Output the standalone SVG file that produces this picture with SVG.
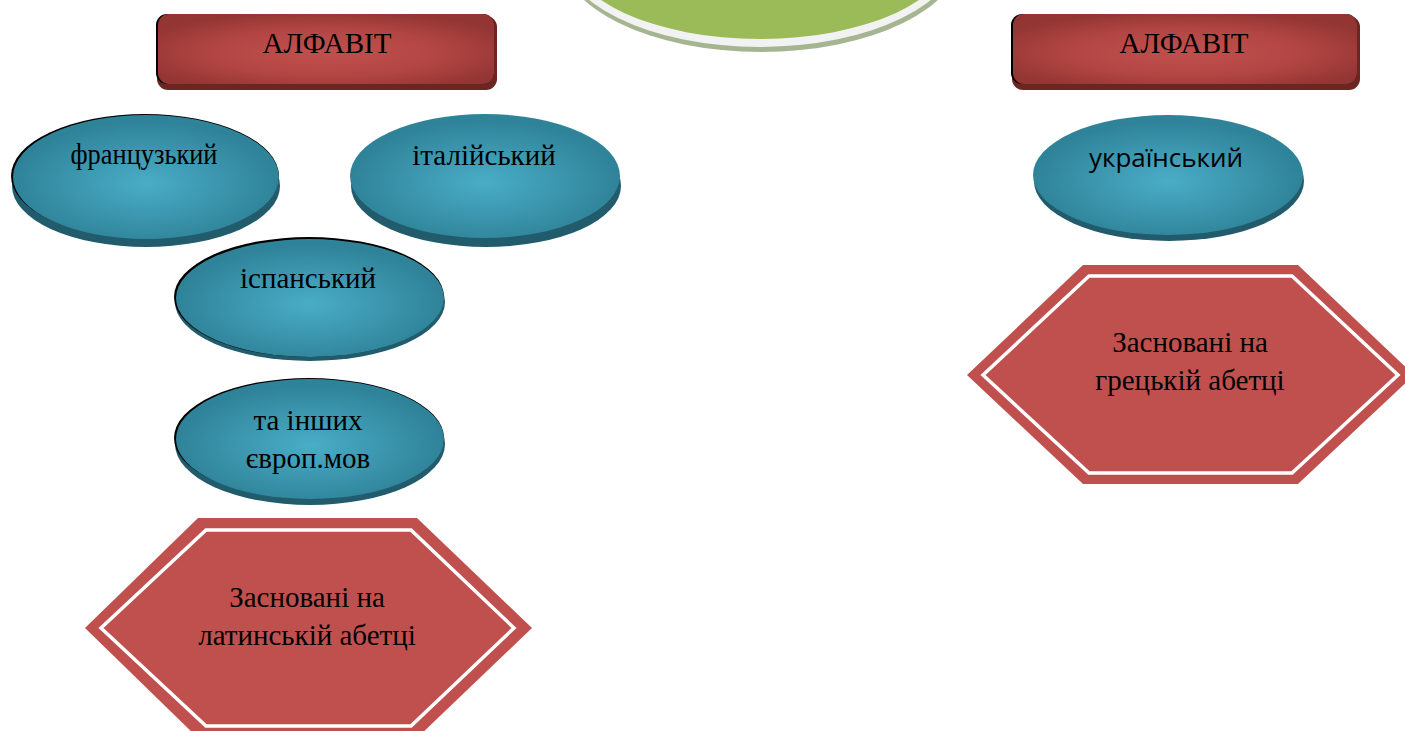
<svg xmlns="http://www.w3.org/2000/svg" width="1405" height="731" viewBox="0 0 1405 731">
<defs>
<radialGradient id="gBlue" cx="50%" cy="55%" r="50%">
<stop offset="0" stop-color="#4aadc7"/>
<stop offset="1" stop-color="#2f8399"/>
</radialGradient>
<radialGradient id="gRed" cx="50%" cy="55%" r="60%">
<stop offset="0" stop-color="#c0504d"/>
<stop offset="0.55" stop-color="#b34644"/>
<stop offset="1" stop-color="#923533"/>
</radialGradient>
</defs>
<style>
.serif{font-family:"Liberation Serif","Times New Roman",serif;font-size:29px;fill:#000;text-anchor:middle}
.sans{font-family:"Open Sans","Noto Sans",sans-serif;font-size:26px;fill:#000;text-anchor:middle}
.eshadow{fill:#215b6c}
.eblack{fill:#000}
.efill{fill:url(#gBlue)}
.bshadow{fill:#6b2624}
.bfill{fill:url(#gRed)}
.hex{fill:#c0504d}
.hexline{fill:none;stroke:#fff;stroke-width:3.5}
</style>

<g id="top-ellipse">
<ellipse cx="761" cy="-47" rx="201" ry="99" fill="#a6b591"/>
<ellipse cx="760" cy="-51" rx="200" ry="98" fill="#f2f2f2"/>
<ellipse cx="760" cy="-51" rx="193" ry="90" fill="#9bbb59"/>
</g>

<g id="alfavit-left">
<rect x="157" y="16" width="340" height="74" rx="11" class="bshadow"/>
<rect x="156" y="14" width="338" height="70" rx="11" fill="#000"/>
<rect x="158" y="14" width="336" height="70" rx="11" class="bfill"/>
<text x="327" y="53" class="serif">АЛФАВІТ</text>
</g>

<g id="alfavit-right">
<rect x="1012" y="16" width="348" height="74" rx="11" class="bshadow"/>
<rect x="1011" y="14" width="346" height="70" rx="11" fill="#000"/>
<rect x="1013" y="14" width="344" height="70" rx="11" class="bfill"/>
<text x="1184" y="53" class="serif">АЛФАВІТ</text>
</g>

<g id="french">
<ellipse cx="146" cy="186" rx="134" ry="61" class="eshadow"/>
<ellipse cx="145" cy="176" rx="134" ry="62" class="eblack"/>
<ellipse cx="146" cy="177" rx="133" ry="62" class="efill"/>
<text x="144" y="164" class="serif" textLength="147" lengthAdjust="spacingAndGlyphs">французький</text>
</g>

<g id="italian">
<ellipse cx="486" cy="186" rx="135" ry="61" class="eshadow"/>
<ellipse cx="485" cy="176" rx="135" ry="62" class="efill"/>
<text x="484" y="165" class="serif">італійський</text>
</g>

<g id="spanish">
<ellipse cx="310" cy="302" rx="135" ry="59" class="eshadow"/>
<ellipse cx="309" cy="297" rx="135" ry="60" class="eblack"/>
<ellipse cx="310" cy="298" rx="134" ry="59" class="efill"/>
<text x="308" y="288" class="serif">іспанський</text>
</g>

<g id="others">
<ellipse cx="310" cy="444" rx="135" ry="61" class="eshadow"/>
<ellipse cx="309" cy="438" rx="135" ry="60" class="eblack"/>
<ellipse cx="310" cy="439" rx="134" ry="60" class="efill"/>
<text x="308" y="430" class="serif">та інших</text>
<text x="308" y="468" class="serif">європ.мов</text>
</g>

<g id="ukrainian">
<ellipse cx="1169" cy="181" rx="135" ry="60" class="eshadow"/>
<ellipse cx="1168" cy="175" rx="135" ry="60" class="efill"/>
<text x="1166" y="167" class="sans">український</text>
</g>

<g id="latin">
<polygon points="198,518 417,518 532,628 417,738 198,738 85,628" class="hex"/>
<polygon points="206,530 411,530 514,628 411,726 206,726 101,628" class="hexline"/>
<text x="307" y="607" class="serif">Засновані на</text>
<text x="307" y="645" class="serif">латинській абетці</text>
</g>

<g id="greek">
<polygon points="1083,265 1298,265 1414,375 1298,484 1083,484 967,375" class="hex"/>
<polygon points="1089,276 1292,276 1398,375 1292,473 1089,473 983,375" class="hexline"/>
<text x="1190" y="352" class="serif">Засновані на</text>
<text x="1190" y="390" class="serif">грецькій абетці</text>
</g>

<g id="connectors"></g>
</svg>
